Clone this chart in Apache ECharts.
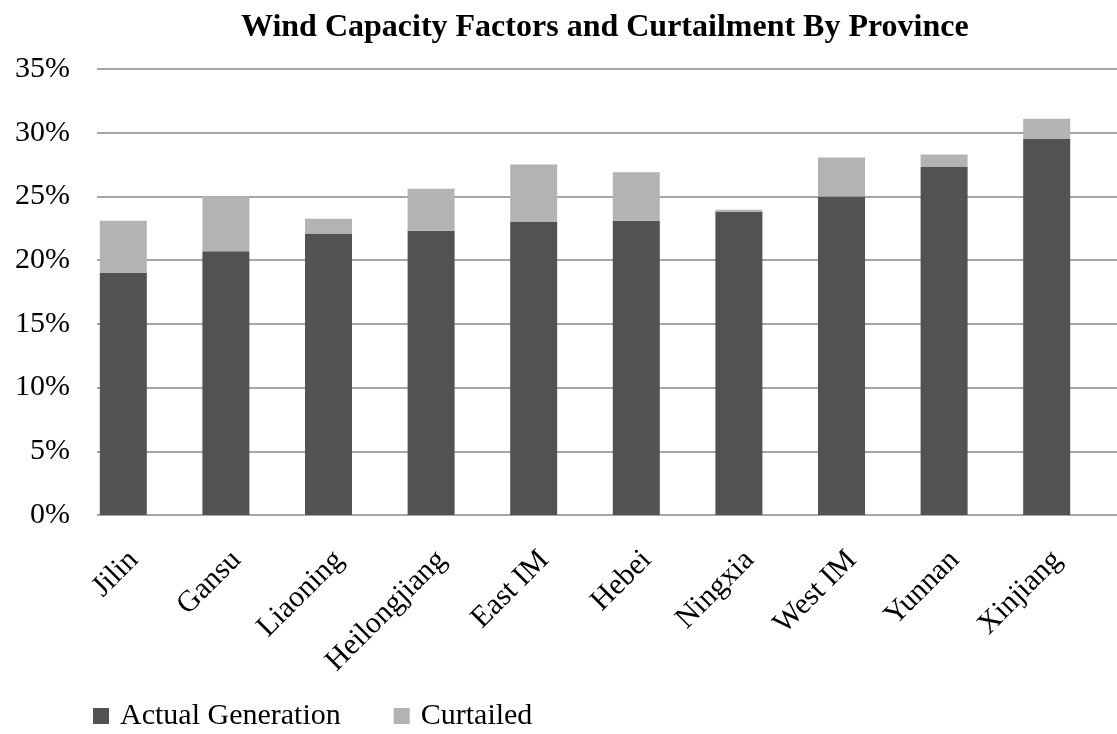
<!DOCTYPE html>
<html>
<head>
<meta charset="utf-8">
<script src="https://cdn.jsdelivr.net/npm/echarts@6/dist/echarts.min.js"></script>
<style>
html,body{margin:0;padding:0;background:#fff;}
#chart{width:1117px;height:734px;}
</style>
</head>
<body>
<div id="chart"></div>
<script>
const provinces = ['Jilin','Gansu','Liaoning','Heilongjiang','East IM','Hebei','Ningxia','West IM','Yunnan','Xinjiang'];
const actualGeneration = [19.0, 20.7, 22.1, 22.3, 23.0, 23.1, 23.8, 25.0, 27.3, 29.5];
const curtailed = [4.1, 4.3, 1.15, 3.3, 4.5, 3.8, 0.15, 3.05, 1.0, 1.6];
const yTicks = {min: 0, max: 35, interval: 5};
const titleText = 'Wind Capacity Factors and Curtailment By Province';

const font = '"Liberation Serif", "Times New Roman", serif';
const chart = echarts.init(document.getElementById('chart'), null, {renderer: 'canvas'});
chart.setOption({
  backgroundColor: '#ffffff',
  animation: false,
  title: {
    text: titleText,
    left: 236, top: 7,
    textStyle: {fontFamily: font, fontWeight: 'bold', fontSize: 32, color: '#000'}
  },
  legend: {
    data: ['Actual Generation', 'Curtailed'],
    left: 93, top: 701, padding: 0,
    itemWidth: 16, itemHeight: 16, itemGap: 53,
    icon: 'rect',
    textStyle: {fontFamily: font, fontSize: 30, color: '#000', padding: [0,0,0,6]}
  },
  grid: [
    {left: 97, right: 0, top: 69, bottom: 219},
    {left: 72, right: 19, top: 69, bottom: 219}
  ],
  xAxis: [
    {type: 'value', gridIndex: 0, show: false},
    {type: 'category', gridIndex: 1, data: provinces,
     axisLine: {show: false}, axisTick: {show: false},
     axisLabel: {rotate: 45, margin: 30, align: 'right', verticalAlign: 'top',
       fontFamily: font, fontSize: 30, color: '#000', interval: 0}}
  ],
  yAxis: [
    {type: 'value', gridIndex: 0, min: yTicks.min, max: yTicks.max, interval: yTicks.interval,
     axisLine: {show: false}, axisTick: {show: false},
     axisLabel: {formatter: '{value}%', margin: 27, fontFamily: font, fontSize: 30, color: '#000'},
     splitLine: {lineStyle: {color: '#a6a6a6', width: 2}}},
    {type: 'value', gridIndex: 1, min: yTicks.min, max: yTicks.max, interval: yTicks.interval, show: false,
     splitLine: {show: false}}
  ],
  series: [
    {name: 'Actual Generation', type: 'bar', stack: 'total', xAxisIndex: 1, yAxisIndex: 1,
     barWidth: 47, data: actualGeneration, itemStyle: {color: '#525252'}},
    {name: 'Curtailed', type: 'bar', stack: 'total', xAxisIndex: 1, yAxisIndex: 1,
     barWidth: 47, data: curtailed, itemStyle: {color: '#b3b3b3'}}
  ]
});
</script>
</body>
</html>
